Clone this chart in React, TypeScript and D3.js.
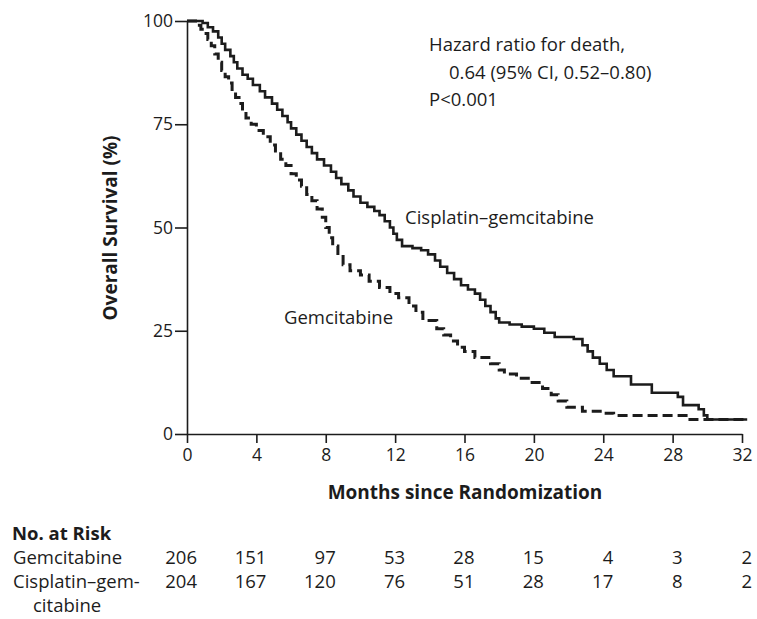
import React, { useEffect, useRef } from 'react';
import * as d3 from 'd3';

// Kaplan-Meier estimates: [month, survival %]
const cisplatinGem: [number, number][] = [
  [0, 100], [0.9, 99.5], [1.2, 98.5], [1.5, 97.5], [1.8, 96], [2.0, 94.5], [2.2, 93], [2.5, 91.5],
  [2.7, 90], [2.9, 88.5], [3.2, 87], [3.5, 86], [3.8, 84.5], [4.2, 83], [4.5, 81.5], [4.9, 80],
  [5.2, 78.5], [5.5, 77], [5.8, 75.5], [6.0, 74], [6.3, 72.5], [6.6, 71], [6.9, 69.5], [7.2, 68],
  [7.5, 66.5], [7.9, 65], [8.3, 63.5], [8.6, 62], [8.9, 60.5], [9.3, 59], [9.6, 57.5], [10.0, 56],
  [10.4, 55], [10.8, 54], [11.1, 53], [11.4, 51.5], [11.7, 50], [11.9, 48.5], [12.1, 47], [12.4, 45.5],
  [13.0, 45], [13.5, 44.5], [13.9, 43.5], [14.3, 42], [14.6, 40.5], [15.0, 39], [15.4, 37.5],
  [15.8, 36], [16.2, 35], [16.6, 34], [16.9, 32.5], [17.2, 31], [17.5, 29.5], [17.8, 28], [18.0, 27],
  [18.6, 26.5], [19.3, 26], [20.0, 25.5], [20.6, 24.5], [21.2, 23.5], [22.3, 23], [22.8, 21.5],
  [23.1, 20], [23.4, 18.5], [23.8, 17], [24.2, 15.5], [24.6, 14], [25.6, 12], [26.8, 10], [28.3, 9],
  [28.6, 7], [29.5, 6], [29.8, 4.5], [30.0, 3.5], [32.3, 3.5],
];

const gemcitabine: [number, number][] = [
  [0, 100], [0.6, 99], [0.8, 98], [1.0, 97], [1.2, 95.5], [1.4, 94], [1.6, 92], [1.8, 90], [2.0, 88],
  [2.2, 86.5], [2.4, 85], [2.6, 83], [2.8, 81.5], [3.0, 80], [3.2, 78], [3.4, 76.5], [3.7, 75],
  [4.0, 73.5], [4.4, 72], [4.8, 70], [5.1, 68.5], [5.4, 66.5], [5.7, 65], [6.0, 63], [6.3, 61.5],
  [6.6, 60], [6.9, 58], [7.2, 56.5], [7.5, 54.5], [7.8, 52.5], [8.0, 50], [8.2, 47.5], [8.4, 45.5],
  [8.7, 43], [9.0, 41], [9.4, 39.5], [10.0, 38.5], [10.5, 37], [11.1, 35.5], [11.7, 34], [12.2, 33],
  [12.8, 31], [13.2, 29.5], [13.6, 27.5], [14.4, 25.5], [14.8, 24], [15.2, 22.5], [15.6, 21],
  [16.0, 20], [16.6, 18.5], [17.5, 17], [18.0, 15.5], [18.3, 14.5], [19.0, 13.5], [19.8, 12.5],
  [20.5, 11], [21.0, 9.5], [21.4, 8], [21.9, 6.5], [22.8, 5.5], [24.0, 5], [24.6, 4.5], [29.0, 3.5],
  [32.3, 3.5],
];

const xTicks = [0, 4, 8, 12, 16, 20, 24, 28, 32];
const yTicks = [0, 25, 50, 75, 100];

const riskGem = [206, 151, 97, 53, 28, 15, 4, 3, 2];
const riskCis = [204, 167, 120, 76, 51, 28, 17, 8, 2];

const FONT = '"Open Sans", sans-serif';
const INK = '#1c1c1c';
const FS = 18.5;

const x = d3.scaleLinear().domain([0, 32]).range([187, 742]);
const y = d3.scaleLinear().domain([0, 100]).range([434, 21]);

const App = () => {
  const xRef = useRef<SVGGElement>(null);
  const yRef = useRef<SVGGElement>(null);

  useEffect(() => {
    const xa = d3.select(xRef.current!);
    xa.selectAll('*').remove();
    xa.call(d3.axisBottom(x).tickValues(xTicks).tickSize(9).tickSizeOuter(0).tickPadding(6));
    const ya = d3.select(yRef.current!);
    ya.selectAll('*').remove();
    ya.call(d3.axisLeft(y).tickValues(yTicks).tickSize(12).tickSizeOuter(0).tickPadding(2));
    [xa, ya].forEach(g => {
      g.selectAll('path, line').attr('stroke', INK).attr('stroke-width', 1.6);
      g.selectAll('text').attr('fill', INK).style('font-family', FONT).style('font-size', '17.5px');
    });
  }, []);

  const line = d3.line<[number, number]>()
    .x(d => x(d[0]))
    .y(d => y(d[1]))
    .curve(d3.curveStepAfter);

  return (
    <svg width={757} height={619} style={{ position: 'absolute', left: 0, top: 0, background: '#fff' }}
      fontFamily={FONT} fill={INK}>
      <path d={line(gemcitabine) ?? ''} fill="none" stroke={INK} strokeWidth={3} strokeDasharray="10,5" />
      <path d={line(cisplatinGem) ?? ''} fill="none" stroke={INK} strokeWidth={2.6} />
      <g ref={xRef} transform={`translate(0,${y(0)})`} />
      <g ref={yRef} transform={`translate(${x(0)},0)`} />

      <text transform={`translate(117,228) rotate(-90)`} textAnchor="middle" fontWeight="bold" fontSize={19}>
        Overall Survival (%)
      </text>
      <text x={465} y={499} textAnchor="middle" fontWeight="bold" fontSize={19}>Months since Randomization</text>

      <text x={429} y={51} fontSize={FS}>Hazard ratio for death,</text>
      <text x={449} y={79} fontSize={FS}>0.64 (95% CI, 0.52–0.80)</text>
      <text x={429} y={106} fontSize={FS}>P&lt;0.001</text>

      <text x={405} y={224} fontSize={FS}>Cisplatin–gemcitabine</text>
      <text x={284} y={324} fontSize={FS}>Gemcitabine</text>

      <text x={12} y={540} fontWeight="bold" fontSize={FS}>No. at Risk</text>
      <text x={13} y={564} fontSize={FS}>Gemcitabine</text>
      <text x={13} y={588} fontSize={FS}>Cisplatin–gem-</text>
      <text x={33} y={612} fontSize={FS}>citabine</text>
      {riskGem.map((v, i) => (
        <text key={`g${i}`} x={x(xTicks[i]) + 10} y={564} textAnchor="end" fontSize={FS}>{v}</text>
      ))}
      {riskCis.map((v, i) => (
        <text key={`c${i}`} x={x(xTicks[i]) + 10} y={588} textAnchor="end" fontSize={FS}>{v}</text>
      ))}
    </svg>
  );
};

export default App;
